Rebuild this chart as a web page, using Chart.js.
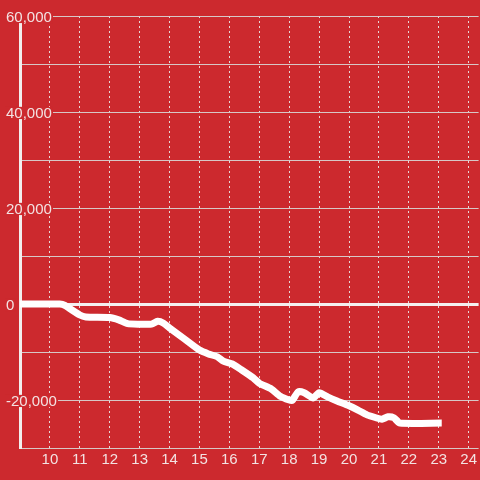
<!DOCTYPE html>
<html>
<head>
<meta charset="utf-8">
<script src="https://cdn.jsdelivr.net/npm/chart.js@4/dist/chart.umd.min.js"></script>
<style>
  html, body { margin: 0; padding: 0; background: #cc292e; }
  #wrap { width: 480px; height: 480px; }
</style>
</head>
<body>
<div id="wrap"><canvas id="chart" width="480" height="480"></canvas></div>
<script>
// --- Data ---
const xValues = [9, 10.33, 10.5, 11, 11.2, 12, 12.3, 12.6, 13, 13.4, 13.6, 13.8, 14, 14.5, 15, 15.3, 15.6, 15.8,
  16.1, 16.4, 16.8, 17, 17.4, 17.7, 18, 18.1, 18.3, 18.5, 18.8, 19, 19.3, 19.6, 20, 20.3, 20.6, 20.9,
  21.1, 21.3, 21.5, 21.7, 23.1];
const yValues = [0, 0, -300, -2300, -2700, -2800, -3300, -4100, -4200, -4200, -3600, -4000, -5000, -7300, -9600, -10400, -11000, -11900,
  -12500, -13700, -15400, -16500, -17700, -19200, -20000, -20100, -18300, -18500, -19600, -18500, -19400, -20200, -21200, -22100, -23100, -23700,
  -24000, -23500, -23700, -24800, -24800];

const xMin = 9;
const xMax = 24.333;
const yMin = -30000;
const yMax = 60000;
const yStep = 10000;
const yLabelStep = 20000;

const bgColor = '#cc292e';
const textColor = '#f3e2e2';

const points = xValues.map((x, i) => ({ x: x, y: yValues[i] }));

// --- Chart ---
const chart = new Chart(document.getElementById('chart'), {
    type: 'line',
    data: {
        datasets: [{
            data: points,
            borderColor: '#ffffff',
            borderWidth: 7,
            borderJoinStyle: 'round',
            tension: 0.2,
            pointRadius: 0,
            fill: false
        }]
    },
    options: {
        responsive: false,
        animation: false,
        layout: { padding: { top: 16, left: 20, right: 0, bottom: 0 } },
        plugins: {
            legend: { display: false },
            tooltip: { enabled: false }
        },
        scales: {
            x: {
                type: 'linear',
                min: xMin,
                max: xMax,
                afterFit: (scale) => { scale.height = 32; },
                border: { display: false, dash: [2, 3] },
                grid: {
                    drawTicks: false,
                    color: (ctx) => ctx.tick && ctx.tick.value === xMin ? 'transparent' : 'rgba(232,226,226,0.95)',
                    lineWidth: 1
                },
                ticks: {
                    stepSize: 1,
                    includeBounds: false,
                    padding: 3,
                    color: textColor,
                    font: { family: 'Liberation Sans, Arial, sans-serif', size: 15 },
                    maxRotation: 0,
                    autoSkip: false,
                    callback: (value) => value === xMin ? '' : String(value)
                }
            },
            y: {
                min: yMin,
                max: yMax,
                // zero-width axis; labels are mirrored and pulled back over the axis line
                afterFit: (scale) => { scale.width = 0; },
                border: { display: true, color: '#f2eeee', width: 3 },
                grid: {
                    drawTicks: false,
                    color: (ctx) => ctx.tick && ctx.tick.value === 0 ? '#f4f0f0' : 'rgba(215,208,208,0.95)',
                    lineWidth: (ctx) => ctx.tick && ctx.tick.value === 0 ? 3 : 1
                },
                ticks: {
                    stepSize: yStep,
                    mirror: true,
                    padding: -14,
                    color: textColor,
                    // tiny line height + leading empty line nudges the text ~2px down
                    font: { family: 'Liberation Sans, Arial, sans-serif', size: 15, lineHeight: 0.27 },
                    showLabelBackdrop: (ctx) => !!ctx.tick && ctx.tick.value % yLabelStep === 0,
                    backdropColor: bgColor,
                    backdropPadding: { left: 1, right: 1, top: -1, bottom: 5 },
                    callback: (value) => value % yLabelStep === 0 ? ['', value.toLocaleString('en-US')] : ''
                }
            }
        }
    }
});
</script>
</body>
</html>
